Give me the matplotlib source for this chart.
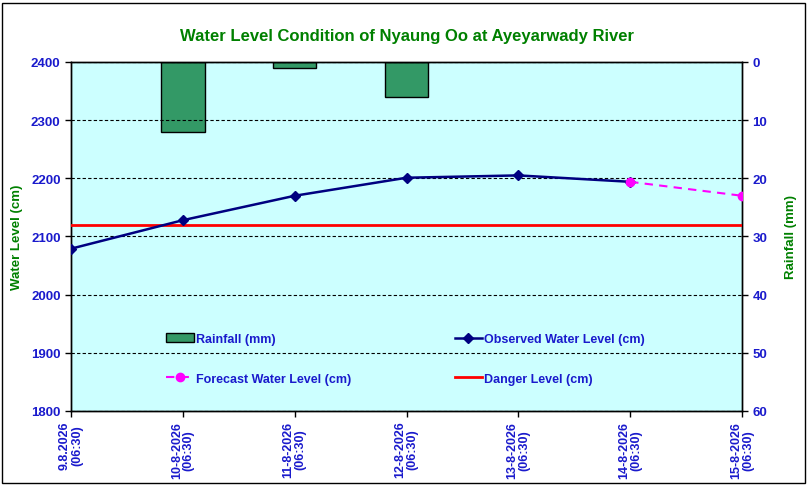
import matplotlib.pyplot as plt
import numpy as np

plt.rcParams["font.family"] = ["Liberation Sans", "DejaVu Sans"]
plt.rcParams["font.weight"] = "bold"

dates = ["9.8.2026", "10-8-2026", "11-8-2026", "12-8-2026",
         "13-8-2026", "14-8-2026", "15-8-2026"]
times = ["(06:30)"] * 7
observed = [2079, 2128, 2170, 2201, 2205, 2194]
forecast_idx = [5, 6]
forecast = [2194, 2170]
rainfall_idx = [1, 2, 3]
rainfall = [12, 1, 6]
danger = 2120

blue = "#1a1acc"
green = "#008000"

fig = plt.figure(figsize=(8.09, 4.89), dpi=100)
fig.patches.append(plt.Rectangle((0.003, 0.01), 0.992, 0.982, transform=fig.transFigure,
                                 fill=False, edgecolor="black", linewidth=1))
ax = fig.add_axes([0.0878, 0.1575, 0.8294, 0.7137])
ax2 = ax.twinx()

x = np.arange(len(dates))

# rainfall bars hang from the top on the inverted right axis
bars = ax2.bar(rainfall_idx, rainfall, width=0.39, color="#339966",
               edgecolor="black", linewidth=1, label="Rainfall (mm)", zorder=2)
ax2.set_ylim(60, 0)
ax2.set_yticks(range(0, 61, 10))

ax.set_zorder(ax2.get_zorder() + 1)
ax.patch.set_visible(False)
ax2.patch.set_visible(True)
ax2.patch.set_facecolor("#ccffff")

obs_line, = ax.plot(x[:len(observed)], observed, color="#000080", marker="D",
                    markersize=5, linewidth=1.8, label="Observed Water Level (cm)", zorder=4)
fc_line, = ax.plot(forecast_idx, forecast, color="#ff00ff", marker="o", markersize=6,
                   linestyle=(0, (4, 3)), linewidth=1.5, label="Forecast Water Level (cm)", zorder=5)
dg_line = ax.axhline(danger, color="#ff0000", linewidth=2, label="Danger Level (cm)", zorder=3)

ax.set_ylim(1800, 2400)
ax.set_yticks(range(1800, 2401, 100))
ax.set_xlim(0, len(dates) - 1)
ax.set_xticks(x)
ax.set_xticklabels([f"{d}\n{t}" for d, t in zip(dates, times)], rotation=90,
                   fontsize=9, color=blue, fontweight="bold", linespacing=1.0)
ax.grid(axis="y", color="black", linestyle=(0, (3, 2)), linewidth=0.8)

for a in (ax, ax2):
    a.tick_params(axis="y", labelsize=9.5, labelcolor=blue, length=4, width=1)
    for s in a.spines.values():
        s.set_linewidth(1)
ax.tick_params(axis="x", length=4, width=1, pad=3)

ax.set_ylabel("Water Level (cm)", color=green, fontsize=9.5, fontweight="bold", labelpad=6)
ax2.set_ylabel("Rainfall (mm)", color=green, fontsize=9.5, fontweight="bold", labelpad=13)
ax.set_title("Water Level Condition of Nyaung Oo at Ayeyarwady River", color=green,
             fontsize=12, fontweight="bold", pad=16)

handles = [bars, fc_line, obs_line, dg_line]
leg = ax.legend(handles, [h.get_label() for h in handles], ncol=2, frameon=False,
                loc="upper left", bbox_to_anchor=(0.125, 0.255), columnspacing=8.3,
                handlelength=2.2, handletextpad=0.15, labelspacing=2.2,
                prop={"size": 9, "weight": "bold"})
for t in leg.get_texts():
    t.set_color(blue)

fig.savefig("out.png", dpi=100)
